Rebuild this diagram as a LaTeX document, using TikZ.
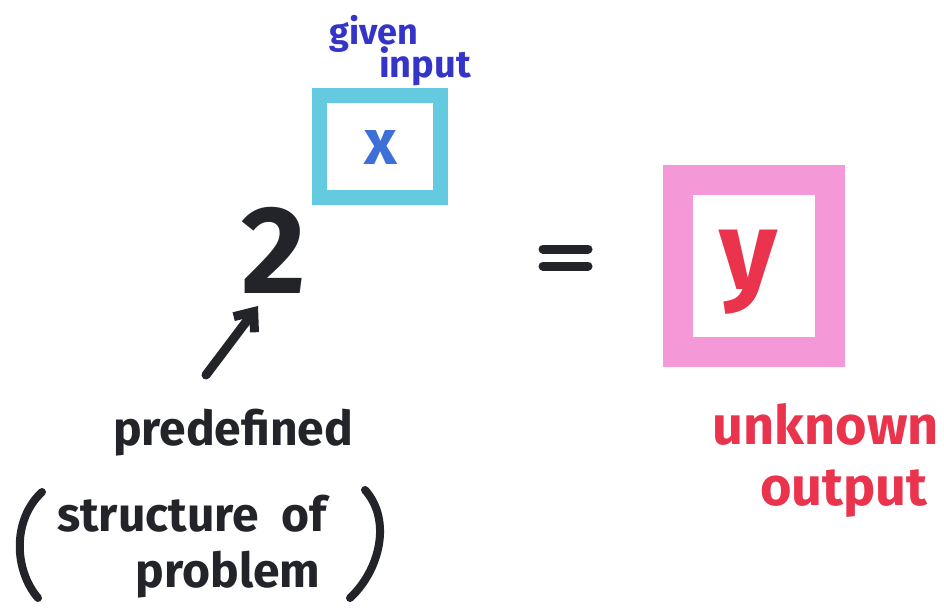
\documentclass[tikz,border=0pt]{standalone}
\usepackage{fontspec}
\setmainfont{Fira Sans}
\usetikzlibrary{arrows.meta}
\definecolor{inkblack}{RGB}{35,36,42}
\definecolor{navyink}{RGB}{52,52,200}
\definecolor{cyanink}{RGB}{100,202,224}
\definecolor{xblue}{RGB}{60,112,216}
\definecolor{pinkink}{RGB}{244,152,216}
\definecolor{redink}{RGB}{234,52,78}
\tikzset{
  marker/.style={font=\bfseries\fontsize{#1}{#1}\selectfont, inner sep=0pt},
  inbox/.style={draw, minimum width=#1, inner sep=0pt},
  inkline/.style={line width=9pt, line cap=round, line join=round, inkblack}
}
\begin{document}
\begin{tikzpicture}[x=1pt,y=-1pt]
\fill[white] (0,0) rectangle (944,610);
\useasboundingbox (0,0) rectangle (944,610);
% given input
\node[marker=36, text=navyink] (given) at (374,34) {given};
\node[marker=38, text=navyink] (input) at (425,66) {input};
% cyan box with x
\node[inbox=121pt, minimum height=102pt, draw=cyanink, line width=15pt] (xbox) at (380,146) {};
\node[marker=64, text=xblue] (x) at (381,148) {x};
% 2
\node[inner sep=0pt, text=inkblack, font=\bfseries\fontsize{125}{125}\selectfont] (two) at (274,250) {2};
% equals
\coordinate (eqa) at (543,249);
\coordinate (eqb) at (588,249);
\coordinate (eqc) at (543,266);
\coordinate (eqd) at (588,266);
\draw[inkline] (eqa) -- (eqb);
\draw[inkline] (eqc) -- (eqd);
% pink box with y
\node[inbox=152pt, minimum height=172pt, draw=pinkink, line width=30pt] (ybox) at (754,266) {};
\node[inner sep=0pt, text=redink, font=\bfseries\fontsize{112}{112}\selectfont] (y) at (748,272) {y};
% arrow
\coordinate (tail) at (206,375);
\coordinate (head) at (258,306);
\draw[inkline, -{Straight Barb[length=16pt, width=26pt, line width=9pt]}] (tail) -- (head);
% predefined label
\node[marker=48, text=inkblack] (pre) at (233,433) {predefined};
\node[marker=48, text=inkblack] (struct) at (192,514) {structure\ \ of};
\node[marker=48, text=inkblack] (prob) at (228,575) {problem};
\coordinate (lpa) at (42,492);
\coordinate (lpb) at (38,598);
\coordinate (rpa) at (365,490);
\coordinate (rpb) at (350,598);
\draw[inkline, line width=8pt] (lpa) .. controls (12,520) and (14,570) .. (lpb);
\draw[inkline, line width=8pt] (rpa) .. controls (392,520) and (380,570) .. (rpb);
% unknown output
\node[marker=54, text=redink] (unk) at (826,424) {unknown};
\node[marker=54, text=redink] (out) at (844,494) {output};
\end{tikzpicture}
\end{document}
